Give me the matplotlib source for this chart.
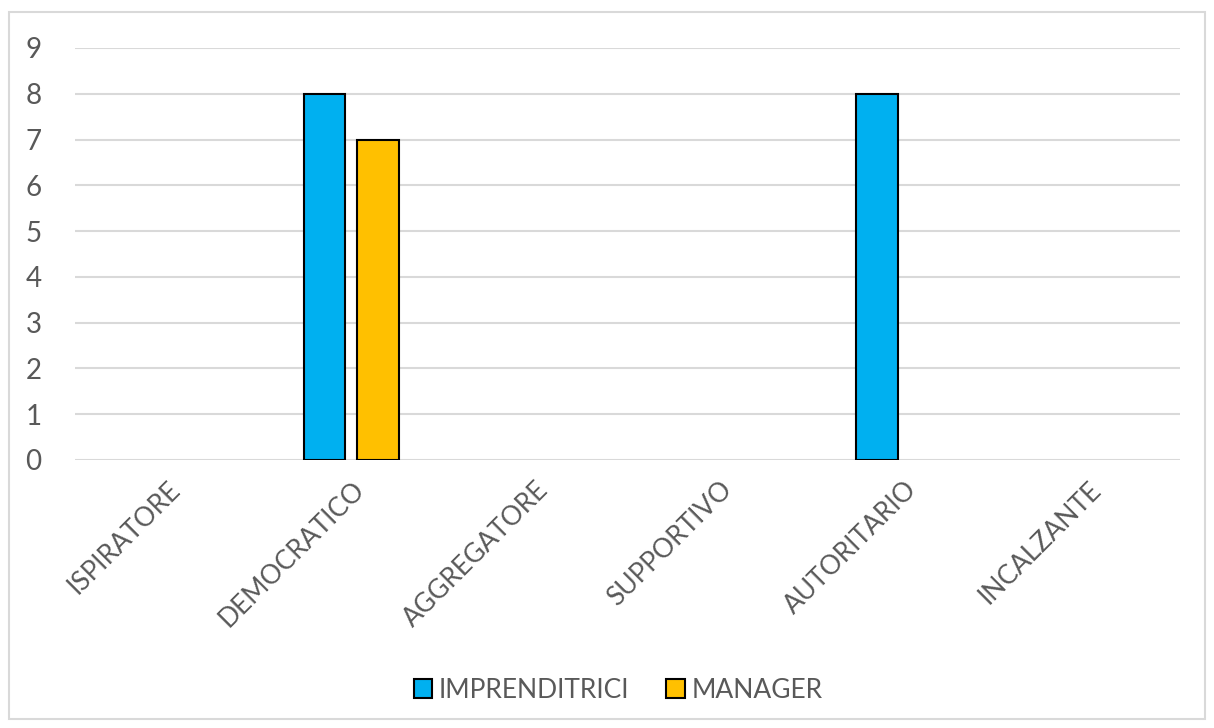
import numpy as np
import matplotlib.pyplot as plt
from matplotlib.patches import Rectangle

# dati
categorie = ["ISPIRATORE", "DEMOCRATICO", "AGGREGATORE", "SUPPORTIVO", "AUTORITARIO", "INCALZANTE"]
imprenditrici = [0, 8, 0, 0, 8, 0]
manager = [0, 7, 0, 0, 0, 0]

plt.rcParams['font.family'] = ['Lato', 'DejaVu Sans']
grigio = "#595959"

fig = plt.figure(figsize=(12.14, 7.28), dpi=100)
ax = fig.add_axes([75 / 1214, 1 - 460 / 728, 1105 / 1214, 412 / 728])

x = np.arange(len(categorie))
w = 0.225
off = 0.145
# niente bordo per le barre a zero
ax.bar(x - off, imprenditrici, w, color="#00B0F0", edgecolor="black",
       linewidth=[1.5 if v else 0 for v in imprenditrici], label="IMPRENDITRICI", zorder=3)
ax.bar(x + off, manager, w, color="#FFC000", edgecolor="black",
       linewidth=[1.5 if v else 0 for v in manager], label="MANAGER", zorder=3)

ax.set_xlim(-0.5, len(categorie) - 0.5)
ax.set_ylim(0, 9)
ax.set_yticks(range(10))
ax.grid(axis='y', color="#D9D9D9", linewidth=1.5, zorder=0)
for s in ax.spines.values():
    s.set_visible(False)
ax.tick_params(length=0)
ax.tick_params(axis='y', labelsize=20, labelcolor=grigio, pad=24)
ax.set_xticks(x)
ax.set_xticklabels(categorie, rotation=45, ha='right', rotation_mode='anchor',
                   fontsize=19, color=grigio)
ax.tick_params(axis='x', pad=12)

leg = fig.legend(loc='center', bbox_to_anchor=(618 / 1214, 1 - 690 / 728), ncol=2, frameon=False,
                 fontsize=19, handlelength=0.7, handleheight=0.7, handletextpad=0.25,
                 columnspacing=1.4)
for t in leg.get_texts():
    t.set_color(grigio)
for h in leg.legend_handles:
    h.set_linewidth(1.5)

# bordo esterno
fig.patches.append(Rectangle((9 / 1214, 9 / 728), 1196 / 1214, 707 / 728,
                             transform=fig.transFigure, fill=False,
                             edgecolor="#D9D9D9", linewidth=1.5))

plt.savefig("out.png", dpi=100)
